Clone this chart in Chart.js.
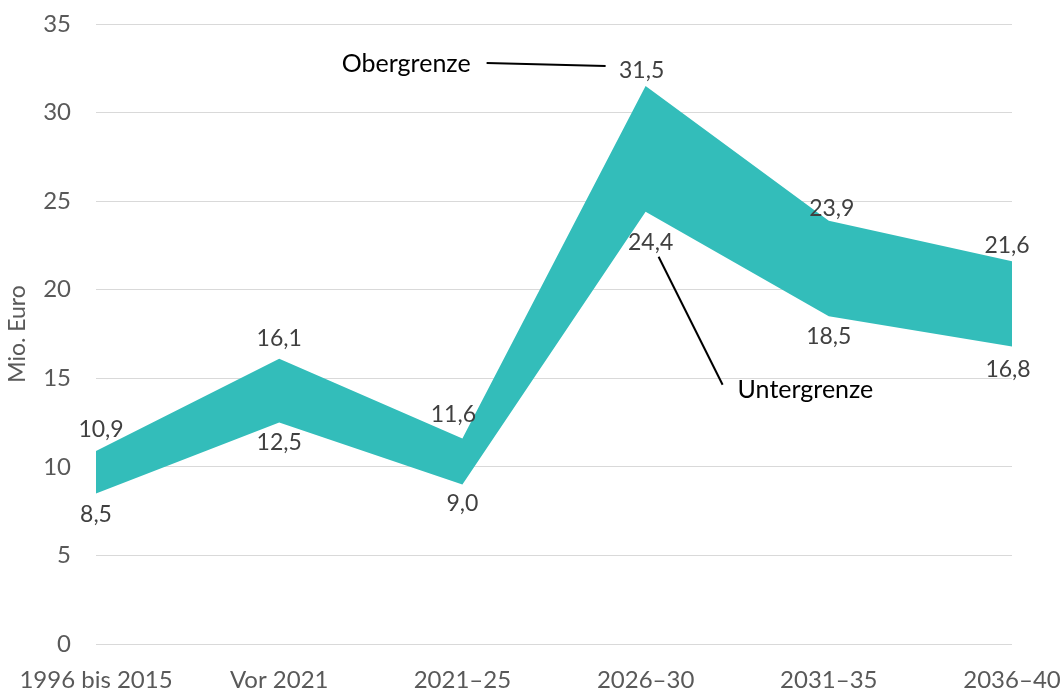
<!DOCTYPE html>
<html>
<head>
<meta charset="utf-8">
<script src="https://cdn.jsdelivr.net/npm/chart.js@4.4.0/dist/chart.umd.min.js"></script>
<style>
    html, body { margin: 0; padding: 0; background: #fff; }
    #wrap { width: 1064px; height: 691px; }
</style>
</head>
<body>
<div id="wrap"><canvas id="chart"></canvas></div>
<script>
const categories = ['1996 bis 2015', 'Vor 2021', '2021–25', '2026–30', '2031–35', '2036–40'];
const obergrenze = [10.9, 16.1, 11.6, 31.5, 23.9, 21.6];
const untergrenze = [8.5, 12.5, 9.0, 24.4, 18.5, 16.8];
const yTicks = [0, 5, 10, 15, 20, 25, 30, 35];

const FONT = 'Lato, "Open Sans", sans-serif';
const fmt = v => v.toFixed(1).replace('.', ',');

// label offsets (px) relative to the point, per dataset
const labelShift = {
    0: [[5, -21], [0, -20], [-9, -24], [-4, -15], [3, -12], [-5, -16]],
    1: [[0, 21], [0, 20], [0, 19], [5, 31], [0, 20], [-4, 23]]
};

const dataLabels = {
    id: 'dataLabels',
    afterDatasetsDraw(chart) {
        const ctx = chart.ctx;
        ctx.save();
        ctx.font = '23px ' + FONT;
        ctx.fillStyle = '#404040';
        ctx.textAlign = 'center';
        ctx.textBaseline = 'middle';
        chart.data.datasets.forEach((ds, di) => {
            chart.getDatasetMeta(di).data.forEach((pt, i) => {
                const s = labelShift[di][i];
                ctx.fillText(fmt(ds.data[i]), pt.x + s[0], pt.y + s[1]);
            });
        });
        ctx.restore();
    }
};

const callouts = {
    id: 'callouts',
    afterDatasetsDraw(chart) {
        const ctx = chart.ctx;
        const top = chart.getDatasetMeta(0).data[3];
        const bot = chart.getDatasetMeta(1).data[3];
        ctx.save();
        ctx.strokeStyle = '#000';
        ctx.lineWidth = 2;
        ctx.fillStyle = '#000';
        ctx.font = '25px ' + FONT;
        ctx.textBaseline = 'middle';

        ctx.beginPath();
        ctx.moveTo(top.x - 159, top.y - 23);
        ctx.lineTo(top.x - 40, top.y - 20);
        ctx.stroke();
        ctx.textAlign = 'right';
        ctx.fillText('Obergrenze', top.x - 175, top.y - 22);

        ctx.beginPath();
        ctx.moveTo(bot.x + 13, bot.y + 45);
        ctx.lineTo(bot.x + 77, bot.y + 173);
        ctx.stroke();
        ctx.textAlign = 'left';
        ctx.fillText('Untergrenze', bot.x + 92, bot.y + 178);
        ctx.restore();
    }
};

new Chart(document.getElementById('chart'), {
    type: 'line',
    data: {
        labels: categories,
        datasets: [{
            label: 'Obergrenze',
            data: obergrenze,
            fill: '+1',
            backgroundColor: '#33BDBA',
            borderWidth: 0,
            pointRadius: 0,
            tension: 0
        }, {
            label: 'Untergrenze',
            data: untergrenze,
            fill: false,
            borderWidth: 0,
            pointRadius: 0,
            tension: 0
        }]
    },
    options: {
        responsive: true,
        maintainAspectRatio: false,
        animation: false,
        layout: { padding: { left: 0, right: 52, top: 24, bottom: 0 } },
        plugins: {
            legend: { display: false },
            tooltip: { enabled: false }
        },
        scales: {
            x: {
                offset: false,
                grid: { display: false },
                border: { display: false },
                afterFit: scale => {
                    scale.height = 47;
                    scale.paddingLeft = 0;
                    scale.paddingRight = 0;
                },
                ticks: { color: '#595959', font: { family: FONT, size: 24, lineHeight: 1 }, padding: 16, maxRotation: 0 }
            },
            y: {
                min: 0,
                max: 35,
                afterBuildTicks: axis => { axis.ticks = yTicks.map(v => ({ value: v })); },
                afterFit: scale => {
                    scale.width = 96;
                    scale.paddingTop = 0;
                    scale.paddingBottom = 0;
                },
                grid: { color: '#d9d9d9', lineWidth: 1, drawTicks: false },
                border: { display: false },
                ticks: { color: '#595959', font: { family: FONT, size: 24 }, padding: 25 },
                title: {
                    display: true,
                    text: 'Mio. Euro',
                    color: '#595959',
                    font: { family: FONT, size: 23, lineHeight: 1 },
                    padding: { top: 6, bottom: 6 }
                }
            }
        }
    },
    plugins: [dataLabels, callouts]
});
</script>
</body>
</html>
